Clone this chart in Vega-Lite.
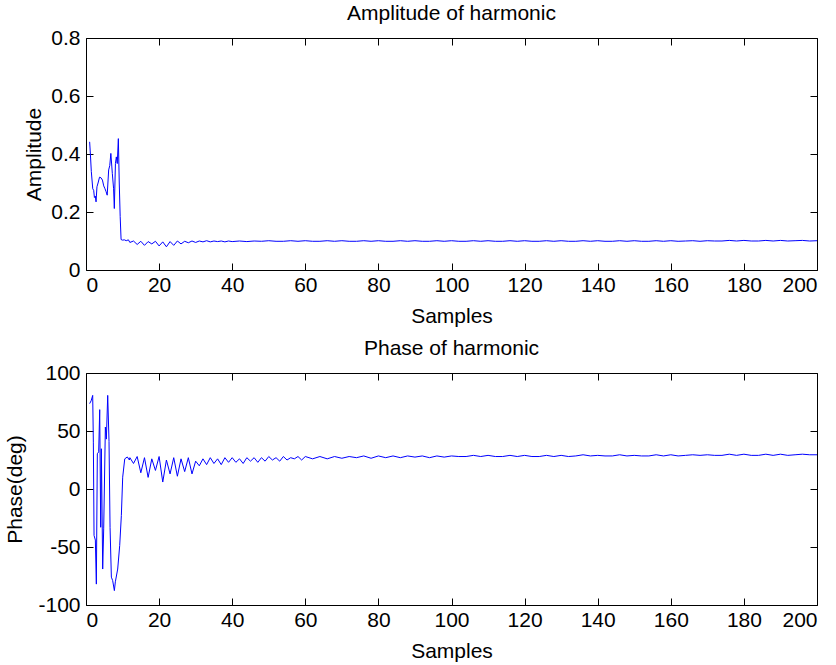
{
  "$schema": "https://vega.github.io/schema/vega-lite/v6.json",
  "padding": {"left": 4, "top": 2, "right": 0, "bottom": 2},
  "spacing": 10,
  "config": {
    "font": "Liberation Sans",
    "view": {"stroke": "#000000", "strokeWidth": 1},
    "axis": {"domain": false, "grid": false, "ticks": true, "tickColor": "#000000", "tickSize": -7, "tickWidth": 1,
      "labelFont": "Liberation Sans", "labelFontSize": 21, "labelColor": "#000000",
      "titleFont": "Liberation Sans", "titleFontSize": 21, "titleFontWeight": "normal", "titleColor": "#000000"},
    "axisX": {"labelPadding": 11, "titlePadding": 10},
    "axisY": {"labelPadding": 13, "titlePadding": 6},
    "title": {"font": "Liberation Sans", "fontSize": 21, "fontWeight": "normal", "color": "#000000", "offset": 3}
  },
  "datasets": {
    "amp": [
      {"s":1.0,"v":0.442},{"s":1.2,"v":0.40},{"s":1.45,"v":0.34},{"s":1.85,"v":0.28},{"s":2.1,"v":0.275},{"s":2.3,"v":0.25},{"s":2.55,"v":0.255},{"s":2.75,"v":0.235},{"s":3.0,"v":0.287},{"s":3.3,"v":0.30},{"s":3.7,"v":0.32},{"s":4.1,"v":0.318},{"s":4.5,"v":0.31},{"s":4.85,"v":0.29},{"s":5.2,"v":0.28},{"s":5.5,"v":0.27},{"s":5.8,"v":0.258},{"s":6.2,"v":0.345},{"s":6.5,"v":0.36},{"s":6.8,"v":0.402},{"s":7.2,"v":0.333},{"s":7.55,"v":0.28},{"s":7.75,"v":0.212},{"s":8.05,"v":0.367},{"s":8.3,"v":0.39},{"s":8.55,"v":0.367},{"s":8.85,"v":0.453},{"s":9.1,"v":0.30},{"s":9.35,"v":0.184},{"s":9.6,"v":0.105},{"s":10.0,"v":0.103},{"s":10.5,"v":0.104},{"s":11.0,"v":0.101},{"s":11.6,"v":0.104},
      {"s":12,"v":0.095},{"s":13,"v":0.100},{"s":14,"v":0.088},{"s":15,"v":0.099},{"s":16,"v":0.085},{"s":17,"v":0.098},{"s":18,"v":0.090},{"s":19,"v":0.099},{"s":20,"v":0.083},{"s":21,"v":0.097},{"s":22,"v":0.080},{"s":23,"v":0.098},{"s":24,"v":0.085},{"s":25,"v":0.100},{"s":26,"v":0.090},{"s":27,"v":0.099},{"s":28,"v":0.094},{"s":29,"v":0.100},{"s":30,"v":0.095},{"s":31,"v":0.100},{"s":32,"v":0.097},{"s":33,"v":0.101},{"s":34,"v":0.097},{"s":35,"v":0.100},{"s":36,"v":0.098},{"s":37,"v":0.100},{"s":38,"v":0.097},{"s":39,"v":0.100},{"s":40,"v":0.098},
      {"s":42,"v":0.100},{"s":44,"v":0.098},{"s":46,"v":0.100},{"s":48,"v":0.099},{"s":50,"v":0.101},{"s":52,"v":0.099},{"s":54,"v":0.099},{"s":56,"v":0.101},{"s":58,"v":0.099},{"s":60,"v":0.101},{"s":62,"v":0.099},{"s":64,"v":0.099},{"s":66,"v":0.101},{"s":68,"v":0.099},{"s":70,"v":0.101},{"s":72,"v":0.099},{"s":74,"v":0.099},{"s":76,"v":0.101},{"s":78,"v":0.099},{"s":80,"v":0.101},{"s":82,"v":0.099},{"s":84,"v":0.099},{"s":86,"v":0.101},{"s":88,"v":0.099},{"s":90,"v":0.101},{"s":92,"v":0.099},{"s":94,"v":0.099},{"s":96,"v":0.101},{"s":98,"v":0.099},{"s":100,"v":0.101},{"s":102,"v":0.099},{"s":104,"v":0.099},{"s":106,"v":0.101},{"s":108,"v":0.099},{"s":110,"v":0.101},{"s":112,"v":0.099},{"s":114,"v":0.099},{"s":116,"v":0.101},{"s":118,"v":0.099},{"s":120,"v":0.101},{"s":122,"v":0.099},{"s":124,"v":0.099},{"s":126,"v":0.101},{"s":128,"v":0.099},{"s":130,"v":0.101},{"s":132,"v":0.099},{"s":134,"v":0.099},{"s":136,"v":0.101},{"s":138,"v":0.099},{"s":140,"v":0.101},{"s":142,"v":0.099},{"s":144,"v":0.099},{"s":146,"v":0.101},{"s":148,"v":0.099},{"s":150,"v":0.101},{"s":152,"v":0.099},{"s":154,"v":0.099},{"s":156,"v":0.101},{"s":158,"v":0.099},{"s":160,"v":0.101},{"s":162,"v":0.099},{"s":164,"v":0.100},{"s":166,"v":0.101},{"s":168,"v":0.099},{"s":170,"v":0.101},{"s":172,"v":0.100},{"s":174,"v":0.100},{"s":176,"v":0.102},{"s":178,"v":0.100},{"s":180,"v":0.102},{"s":182,"v":0.100},{"s":184,"v":0.100},{"s":186,"v":0.102},{"s":188,"v":0.100},{"s":190,"v":0.102},{"s":192,"v":0.100},{"s":194,"v":0.101},{"s":196,"v":0.102},{"s":198,"v":0.100},{"s":200,"v":0.101}
    ],
    "ph": [
      {"s":1.0,"v":73.6},{"s":1.4,"v":76},{"s":1.83,"v":80.7},{"s":2.01,"v":40.4},{"s":2.2,"v":-40},{"s":2.56,"v":-44},{"s":2.83,"v":-82},{"s":3.1,"v":30.4},{"s":3.47,"v":32},{"s":3.75,"v":68.4},{"s":4.02,"v":-33},{"s":4.2,"v":34.7},{"s":4.57,"v":-69},{"s":4.84,"v":-34.4},{"s":5.3,"v":53.4},{"s":5.57,"v":43},{"s":5.94,"v":80.7},{"s":6.3,"v":41},{"s":6.58,"v":-33},{"s":6.94,"v":-76},{"s":7.3,"v":-79},{"s":7.76,"v":-87.6},{"s":8.03,"v":-80},{"s":8.67,"v":-69},{"s":9.22,"v":-48.8},{"s":9.67,"v":-22.9},{"s":10.04,"v":10.2},{"s":10.6,"v":26},{"s":11.3,"v":27.6},{"s":11.87,"v":25},
      {"s":12,"v":27},{"s":13,"v":22},{"s":14,"v":28},{"s":15,"v":14},{"s":16,"v":27},{"s":17,"v":10},{"s":18,"v":26},{"s":19,"v":16},{"s":20,"v":28},{"s":21,"v":6},{"s":22,"v":25},{"s":23,"v":13},{"s":24,"v":27},{"s":25,"v":11},{"s":26,"v":26},{"s":27,"v":15},{"s":28,"v":27},{"s":29,"v":13},{"s":30,"v":24},{"s":31,"v":20},{"s":32,"v":26},{"s":33,"v":21},{"s":34,"v":27},{"s":35,"v":22},{"s":36,"v":26},{"s":37,"v":21},{"s":38,"v":27},{"s":39,"v":23},{"s":40,"v":27},{"s":41,"v":23},{"s":42,"v":26},{"s":43,"v":22},{"s":44,"v":27},{"s":45,"v":24},{"s":46,"v":27},{"s":47,"v":23},{"s":48,"v":27},{"s":49,"v":24},{"s":50,"v":28},{"s":51,"v":25},{"s":52,"v":27},{"s":53,"v":24},{"s":54,"v":28},{"s":55,"v":25},{"s":56,"v":27},{"s":57,"v":26},{"s":58,"v":28},{"s":59,"v":25},{"s":60,"v":28},
      {"s":62,"v":26},{"s":64,"v":28},{"s":66,"v":26},{"s":68,"v":28},{"s":70,"v":26.5},{"s":72,"v":28},{"s":74,"v":27},{"s":76,"v":28.5},{"s":78,"v":26.5},{"s":80,"v":28.5},{"s":82,"v":27},{"s":84,"v":28.5},{"s":86,"v":27},{"s":88,"v":28.5},{"s":90,"v":27.5},{"s":92,"v":28.5},{"s":94,"v":27},{"s":96,"v":28.5},{"s":98,"v":27.5},{"s":100,"v":28.5},{"s":102,"v":28},{"s":104,"v":28},{"s":106,"v":29},{"s":108,"v":28},{"s":110,"v":29},{"s":112,"v":28},{"s":114,"v":28},{"s":116,"v":29},{"s":118,"v":28},{"s":120,"v":29},{"s":122,"v":28},{"s":124,"v":28},{"s":126,"v":29},{"s":128,"v":28},{"s":130,"v":29},{"s":132,"v":28},{"s":134,"v":28.5},{"s":136,"v":29.5},{"s":138,"v":28.5},{"s":140,"v":29},{"s":142,"v":28.5},{"s":144,"v":28.5},{"s":146,"v":29.5},{"s":148,"v":28.5},{"s":150,"v":29},{"s":152,"v":28.5},{"s":154,"v":28.5},{"s":156,"v":29.5},{"s":158,"v":28.5},{"s":160,"v":29.5},{"s":162,"v":28.5},{"s":164,"v":29},{"s":166,"v":29.5},{"s":168,"v":29},{"s":170,"v":29.5},{"s":172,"v":29},{"s":174,"v":29},{"s":176,"v":30},{"s":178,"v":29},{"s":180,"v":30},{"s":182,"v":29},{"s":184,"v":29},{"s":186,"v":30},{"s":188,"v":29},{"s":190,"v":30},{"s":192,"v":29},{"s":194,"v":29.5},{"s":196,"v":30},{"s":198,"v":29.5},{"s":200,"v":29.5}
    ]
  },
  "vconcat": [
    {
      "title": "Amplitude of harmonic",
      "width": 731,
      "height": 232,
      "data": {"name": "amp"},
      "layer": [
        {
          "mark": {"type": "line", "color": "#0000ff", "strokeWidth": 1},
          "encoding": {
            "x": {"field": "s", "type": "quantitative", "scale": {"domain": [0, 200], "nice": false},
              "axis": {"title": "Samples", "values": [0, 20, 40, 60, 80, 100, 120, 140, 160, 180, 200]}},
            "y": {"field": "v", "type": "quantitative", "scale": {"domain": [0, 0.8], "nice": false},
              "axis": {"title": "Amplitude", "values": [0, 0.2, 0.4, 0.6, 0.8], "format": "~g"}}
          }
        },
        {
          "mark": {"type": "line", "opacity": 0},
          "encoding": {
            "x": {"field": "s", "type": "quantitative", "scale": {"domain": [0, 200], "nice": false},
              "axis": {"orient": "top", "title": null, "labels": false, "values": [0, 20, 40, 60, 80, 100, 120, 140, 160, 180, 200]}},
            "y": {"field": "v", "type": "quantitative", "scale": {"domain": [0, 0.8], "nice": false},
              "axis": {"orient": "right", "title": null, "labels": false, "values": [0, 0.2, 0.4, 0.6, 0.8]}}
          }
        }
      ],
      "resolve": {"axis": {"x": "independent", "y": "independent"}}
    },
    {
      "title": "Phase of harmonic",
      "width": 731,
      "height": 232,
      "data": {"name": "ph"},
      "layer": [
        {
          "mark": {"type": "line", "color": "#0000ff", "strokeWidth": 1},
          "encoding": {
            "x": {"field": "s", "type": "quantitative", "scale": {"domain": [0, 200], "nice": false},
              "axis": {"title": "Samples", "values": [0, 20, 40, 60, 80, 100, 120, 140, 160, 180, 200]}},
            "y": {"field": "v", "type": "quantitative", "scale": {"domain": [-100, 100], "nice": false},
              "axis": {"title": "Phase(deg)", "titlePadding": 12, "values": [-100, -50, 0, 50, 100], "labelExpr": "'' + datum.value"}}
          }
        },
        {
          "mark": {"type": "line", "opacity": 0},
          "encoding": {
            "x": {"field": "s", "type": "quantitative", "scale": {"domain": [0, 200], "nice": false},
              "axis": {"orient": "top", "title": null, "labels": false, "values": [0, 20, 40, 60, 80, 100, 120, 140, 160, 180, 200]}},
            "y": {"field": "v", "type": "quantitative", "scale": {"domain": [-100, 100], "nice": false},
              "axis": {"orient": "right", "title": null, "labels": false, "values": [-100, -50, 0, 50, 100]}}
          }
        }
      ],
      "resolve": {"axis": {"x": "independent", "y": "independent"}}
    }
  ]
}
